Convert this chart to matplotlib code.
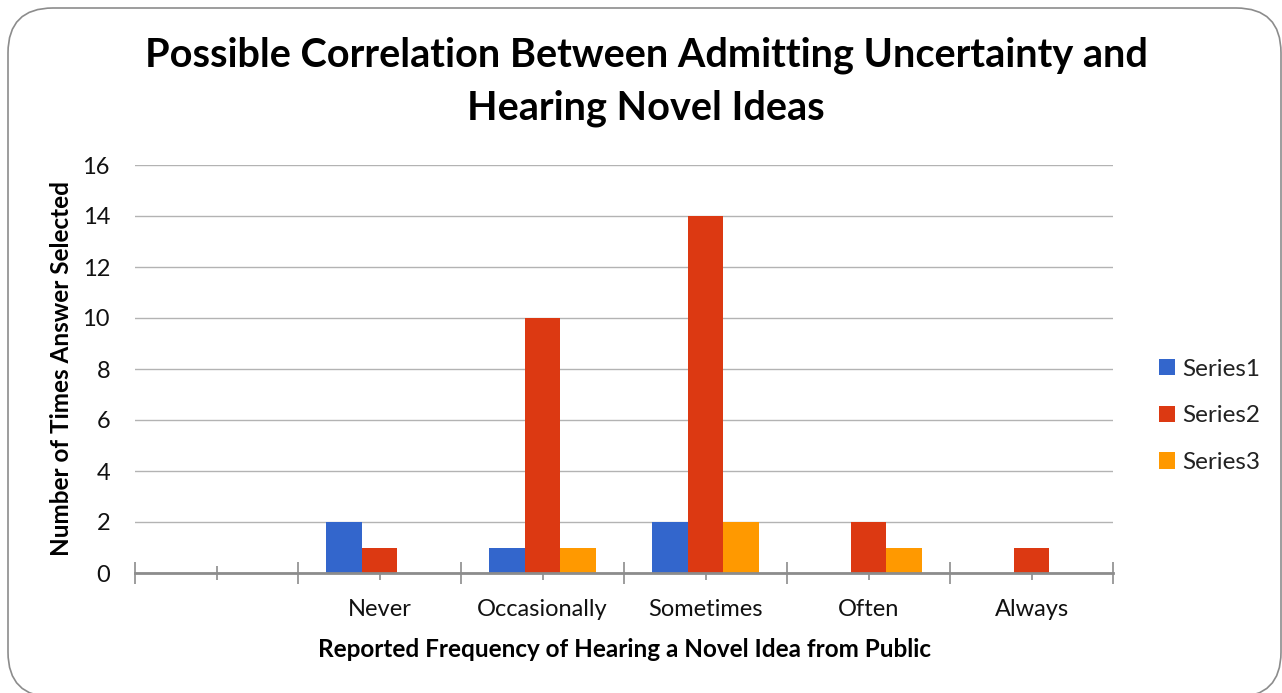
import matplotlib.pyplot as plt
from matplotlib.patches import FancyBboxPatch
import numpy as np

categories = ["", "Never", "Occasionally", "Sometimes", "Often", "Always"]
series1 = [0, 2, 1, 2, 0, 0]
series2 = [0, 1, 10, 14, 2, 1]
series3 = [0, 0, 1, 2, 1, 0]
series_names = ["Series1", "Series2", "Series3"]
colors = ["#3366CC", "#DC3912", "#FF9900"]

plt.rcParams['font.family'] = ['Lato', 'DejaVu Sans']

fig = plt.figure(figsize=(12.82, 6.93), dpi=100)
ax = fig.add_axes([135 / 1282, 1 - 573 / 693, (1113 - 135) / 1282, (573 - 165) / 693])

# rounded outer frame
frame = FancyBboxPatch((8 / 1282, -4 / 693), 1273 / 1282, 689 / 693,
                       boxstyle="round,pad=0,rounding_size=0.035",
                       transform=fig.transFigure, facecolor="none",
                       edgecolor="#8c8c8c", linewidth=1.2,
                       mutation_aspect=1282 / 693)
fig.patches.append(frame)

x = np.arange(len(categories)) + 0.5
w = 0.22
for i, vals in enumerate([series1, series2, series3]):
    ax.bar(x + (i - 1) * w, vals, width=w, color=colors[i], label=series_names[i], zorder=3)

ax.set_xlim(0, len(categories))
ax.set_ylim(0, 16)
ax.set_yticks(range(0, 17, 2))
ax.yaxis.grid(True, color="#b3b3b3", linewidth=1, zorder=0)
ax.tick_params(axis='y', length=0, labelsize=17, pad=18, labelcolor="#111111")

ax.set_xticks(x)
ax.set_xticklabels(categories)
ax.set_xticks(np.arange(0, len(categories) + 1), minor=True)
ax.tick_params(axis='x', which='major', direction='inout', length=10, width=1.2,
               color="#8c8c8c", labelsize=17, pad=14, labelcolor="#111111")
ax.tick_params(axis='x', which='minor', direction='inout', length=16, width=1.2, color="#8c8c8c")

for s in ["top", "right", "left"]:
    ax.spines[s].set_visible(False)
ax.spines["bottom"].set_color("#8c8c8c")
ax.spines["bottom"].set_linewidth(2)
ax.spines["bottom"].set_zorder(4)

fig.text(646 / 1282, 1 - 82 / 693,
         "Possible Correlation Between Admitting Uncertainty and\nHearing Novel Ideas",
         ha="center", va="center", fontsize=28.5, fontweight="bold", linespacing=1.5)
ax.set_xlabel("Reported Frequency of Hearing a Novel Idea from Public",
              fontsize=17.5, fontweight="bold", labelpad=13)
ax.set_ylabel("Number of Times Answer Selected", fontsize=17.5, fontweight="bold", labelpad=7)

ax.legend(loc="center left", bbox_to_anchor=(1.025, 0.385), frameon=False, fontsize=17.5,
          handlelength=0.65, handleheight=0.65, handletextpad=0.3, labelspacing=1.05,
          labelcolor="#222222")

fig.savefig("out.png", dpi=100)
